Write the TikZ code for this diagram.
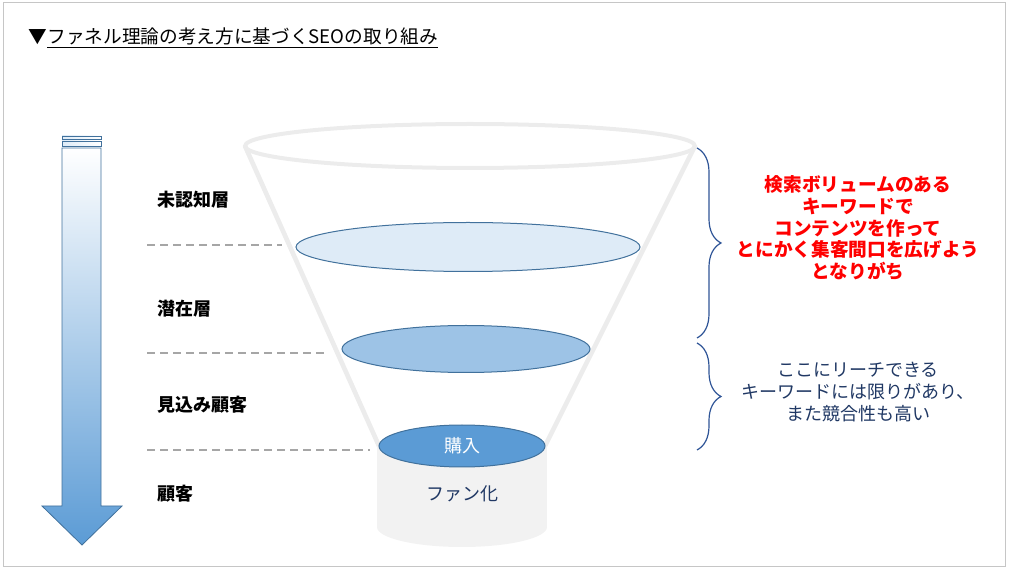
\documentclass[tikz,border=0pt]{standalone}
\usepackage{fontspec}
\setmainfont{Noto Sans CJK JP}
\usetikzlibrary{shapes.geometric,decorations.pathreplacing}
\definecolor{accentblue}{RGB}{91,155,213}
\definecolor{lightblue}{RGB}{222,235,247}
\definecolor{midblue}{RGB}{157,195,230}
\definecolor{edgeblue}{RGB}{65,113,156}
\definecolor{navytext}{RGB}{32,56,100}
\definecolor{bracenavy}{RGB}{47,85,151}
\definecolor{funnelgray}{RGB}{236,236,236}
\definecolor{fangray}{RGB}{242,242,242}

\begin{document}
\begin{tikzpicture}[x=0.75pt,y=-0.75pt,
    layer/.style={ellipse,draw=edgeblue,line width=0.75pt,inner sep=0pt},
    level/.style={font=\fontsize{13.5}{16}\selectfont\bfseries,anchor=west},
    divider/.style={dash pattern=on 6pt off 3.75pt,gray!70,line width=1.5pt},
    bracket/.style={decorate,decoration={brace,amplitude=18pt},draw=bracenavy,line width=0.9pt}]

    \useasboundingbox (0,0) rectangle (1011,573);
    \draw[gray!45,line width=0.75pt] (3,3) rectangle (1005,567);

    % Title
    \node[anchor=west,font=\fontsize{14}{17}\selectfont] (title) at (24,38)
      {▼\underline{ファネル理論の考え方に基づくSEOの取り組み}};

    % Down arrow on the left
    \shade[top color=white,bottom color=accentblue,draw=edgeblue,line width=0.6pt]
      (62,148) -- (101,148) -- (101,506) -- (122,506) -- (82,545) -- (42,506) -- (62,506) -- cycle;
    \foreach \ya/\yb in {136/139,141/146} {
      \shade[left color=lightblue,right color=white,draw=edgeblue,line width=0.6pt]
        (62,\ya) rectangle (101,\yb);
    }

    % Funnel rim and sides
    \node[ellipse,draw=funnelgray,line width=3pt,outer sep=0pt,inner sep=0pt,
      minimum width=337.5pt,minimum height=33pt] (rim) at (470,146) {};
    \coordinate (bl) at (379,446);
    \coordinate (br) at (545,446);
    \draw[funnelgray,line width=3.5pt] (rim.west) -- (bl) (rim.east) -- (br);

    % Cylinder below the funnel
    \fill[fangray] (377,446) rectangle (547,527);
    \node[ellipse,fill=fangray,inner sep=0pt,minimum width=127.5pt,minimum height=30pt] (base) at (462,527) {};
    \node[text=navytext,font=\fontsize{13.5}{16}\selectfont] (fan) at (462,494) {ファン化};

    % Layers of the funnel
    \node[layer,fill=lightblue,minimum width=258pt,minimum height=36.75pt] (aware) at (468,247) {};
    \node[layer,fill=midblue,minimum width=186pt,minimum height=35.25pt] (latent) at (466,349) {};
    \node[layer,fill=accentblue,minimum width=124.5pt,minimum height=31.5pt,
      text=white,font=\fontsize{13.5}{16}\selectfont] (buy) at (462,446) {購入};

    % Dashed dividers
    \foreach \n/\y/\xe in {1/245/282,2/353/328,3/450/370} {
      \coordinate (d\n a) at (147,\y);
      \coordinate (d\n b) at (\xe,\y);
      \draw[divider] (d\n a) -- (d\n b);
    }

    % Level labels
    \foreach \name/\y/\txt in {unaware/200/未認知層,latentl/309/潜在層,prospect/405/見込み顧客,customer/494/顧客} {
      \node[level] (\name) at (153,\y) {\txt};
    }

    % Braces and notes
    \coordinate (b1t) at (697,148);
    \coordinate (b1b) at (697,338);
    \coordinate (b2t) at (697,343);
    \coordinate (b2b) at (697,450);
    \draw[bracket] (b1t) -- (b1b);
    \draw[bracket] (b2t) -- (b2b);

    \node[align=center,text=red,font=\fontsize{14}{16.3}\selectfont\bfseries] (rednote) at (858,228)
      {検索ボリュームのある\\キーワードで\\コンテンツを作って\\とにかく集客間口を広げよう\\となりがち};
    \node[align=center,text=navytext,font=\fontsize{13.5}{16.5}\selectfont] (navynote) at (858,392)
      {ここにリーチできる\\キーワードには限りがあり、\\また競合性も高い};
  \end{tikzpicture}
\end{document}
